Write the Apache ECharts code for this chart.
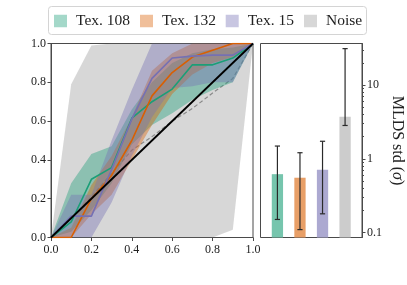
<!DOCTYPE html>
<html><head><meta charset="utf-8">
<script src="https://cdn.jsdelivr.net/npm/echarts@6/dist/echarts.min.js"></script>
<style>html,body{margin:0;padding:0;background:#fff}#c{width:407px;height:285px}</style>
</head><body><div id="c"></div>
<script>
// ---- data ----
const xs = [0, 0.1, 0.2, 0.3, 0.4, 0.5, 0.6, 0.7, 0.8, 0.9, 1.0];
const tex108Mean = [0, 0.08, 0.30, 0.36, 0.615, 0.70, 0.765, 0.89, 0.89, 0.925, 1.0];
const tex108Low  = [0, 0.03, 0.14, 0.28, 0.48, 0.58, 0.64, 0.71, 0.76, 0.80, 1.0];
const tex108High = [0, 0.28, 0.43, 0.47, 0.66, 0.80, 0.90, 0.95, 0.97, 0.98, 1.0];
const tex132Mean = [0, 0.0, 0.20, 0.32, 0.50, 0.73, 0.85, 0.93, 0.965, 1.0, 1.0];
const tex132Low  = [0, 0.0, 0.12, 0.22, 0.40, 0.58, 0.74, 0.84, 0.90, 0.93, 1.0];
const tex132High = [0, 0.05, 0.27, 0.42, 0.62, 0.86, 0.95, 1.0, 1.0, 1.0, 1.0];
const tex15Mean  = [0, 0.11, 0.11, 0.35, 0.61, 0.82, 0.925, 0.935, 0.94, 0.94, 1.0];
const tex15Low   = [0, 0.0, 0.0, 0.18, 0.42, 0.62, 0.77, 0.78, 0.80, 0.80, 1.0];
const tex15High  = [0, 0.22, 0.22, 0.50, 0.76, 1.0, 1.0, 1.0, 1.0, 1.0, 1.0];
const noiseMean  = [0, 0.10, 0.21, 0.33, 0.45, 0.52, 0.60, 0.665, 0.745, 0.82, 1.0];
const noiseLow   = [0, 0, 0, 0, 0, 0, 0, 0, 0, 0.04, 1.0];
const noiseHigh  = [0, 0.79, 0.99, 1.0, 1.0, 1.0, 1.0, 1.0, 1.0, 1.0, 1.0];
const diagonal   = [0, 1];
const axisTicks  = [0, 0.2, 0.4, 0.6, 0.8, 1.0];

const names = ['Tex. 108', 'Tex. 132', 'Tex. 15', 'Noise'];
const stdMean = [0.62, 0.555, 0.71, 3.73];
const stdLow  = [0.151, 0.11, 0.18, 2.83];
const stdHigh = [1.49, 1.21, 1.73, 31.1];
const logMajor = [0.1, 1, 10];
const logMinor = [0.2,0.3,0.4,0.5,0.6,0.7,0.8,0.9, 2,3,4,5,6,7,8,9, 20,30];

// ---- styles ----
const FONT = 'Liberation Serif';
const lineCol = ['#1b9e77', '#d95f02', '#7570b3'];
const bandCol = ['rgba(27,158,119,0.4)', 'rgba(217,95,2,0.4)', 'rgba(117,112,179,0.4)', 'rgba(155,155,155,0.4)'];
const barCol = ['#76c5ad', '#e89f67', '#aca9d1', '#cccccc'];
const frame = '#4a4a4a';
const lg = v => Math.log10(v);
const yMinLog = lg(0.086), yMaxLog = lg(36.5);

function band(name, lo, hi, color, z) {
  return {
    type: 'custom', name, xAxisIndex: 0, yAxisIndex: 0, z, silent: true, clip: true,
    itemStyle: { color },
    data: xs.map((x, i) => [x, lo[i], hi[i]]),
    encode: { x: 0, y: [1, 2] },
    renderItem: (params, api) => {
      if (params.dataIndex !== 0) return;
      const pts = [];
      for (let i = 0; i < xs.length; i++) pts.push(api.coord([xs[i], hi[i]]));
      for (let i = xs.length - 1; i >= 0; i--) pts.push(api.coord([xs[i], lo[i]]));
      return { type: 'polygon', shape: { points: pts }, style: { fill: color } };
    }
  };
}
function line(name, ys, color, z, extra) {
  return Object.assign({
    type: 'line', name, xAxisIndex: 0, yAxisIndex: 0, z, silent: true,
    data: xs.map((x, i) => [x, ys[i]]), showSymbol: false, symbol: 'none',
    lineStyle: { color, width: 1.6 }, itemStyle: { color }
  }, extra || {});
}

const legends = [54, 140, 225.7, 304].map((left, i) => ({
  left, top: 13, padding: 0, itemWidth: 13, itemHeight: 12.5, selectedMode: false,
  textStyle: { fontFamily: FONT, fontSize: 15.5, color: '#222', padding: [0, 0, 0, 4] },
  data: [{ name: names[i], icon: 'rect', itemStyle: { color: bandCol[i] } }]
}));

const option = {
  animation: false,
  backgroundColor: '#fff',
  graphic: [{ type: 'rect', left: 48, top: 6, shape: { width: 318, height: 28, r: 3 },
    style: { fill: '#fff', stroke: '#d4d4d4', lineWidth: 1 }, z: -1 }],
  legend: legends,
  grid: [
    { left: 51, top: 43.5, width: 202, height: 194, show: true, borderColor: frame, borderWidth: 1, backgroundColor: 'transparent' },
    { left: 260.5, top: 43.5, width: 101.5, height: 194, show: true, borderColor: frame, borderWidth: 1, backgroundColor: 'transparent' }
  ],
  xAxis: [
    { type: 'value', gridIndex: 0, min: 0, max: 1, interval: 0.2,
      axisLine: { onZero: false, lineStyle: { color: frame } }, splitLine: { show: false },
      axisTick: { length: 3.5, lineStyle: { color: frame } },
      axisLabel: { fontFamily: FONT, fontSize: 12, color: '#222', margin: 6, formatter: v => v.toFixed(1) } },
    { type: 'value', gridIndex: 1, min: -0.75, max: 3.75, show: false, axisLine: { onZero: false } }
  ],
  yAxis: [
    { type: 'value', gridIndex: 0, min: 0, max: 1, interval: 0.2,
      axisLine: { show: true, onZero: false, lineStyle: { color: frame } }, splitLine: { show: false },
      axisTick: { show: true, length: 3.5, lineStyle: { color: frame } },
      axisLabel: { fontFamily: FONT, fontSize: 12, color: '#222', margin: 5, formatter: v => v.toFixed(1) } },
    { type: 'value', gridIndex: 1, position: 'right', min: yMinLog, max: yMaxLog,
      axisLine: { show: true, onZero: false, lineStyle: { color: frame } }, splitLine: { show: false },
      axisTick: { show: true, length: 3.5, lineStyle: { color: frame }, customValues: logMajor.map(lg) },
      axisLabel: { fontFamily: FONT, fontSize: 12, color: '#222', margin: 5, customValues: logMajor.map(lg),
        formatter: v => { const r = Math.round(v); return r < 0 ? '0.1' : String(Math.pow(10, r)); } },
      name: 'MLDS std ({i|σ})', nameLocation: 'middle', nameRotate: -90, nameGap: 27,
      nameTextStyle: { fontFamily: FONT, fontSize: 16, color: '#222', rich: { i: { fontFamily: FONT, fontSize: 16, fontStyle: 'italic', color: '#222' } } } },
    { type: 'value', gridIndex: 1, position: 'right', min: yMinLog, max: yMaxLog,
      axisLine: { show: false, onZero: false }, splitLine: { show: false }, axisLabel: { show: false },
      axisTick: { show: true, length: 2, lineStyle: { color: frame }, customValues: logMinor.map(lg) } }
  ],
  series: [
    band('Noise', noiseLow, noiseHigh, bandCol[3], 1),
    line('Noise mean', noiseMean, '#8a8a8a', 2, { lineStyle: { color: '#8a8a8a', width: 1.2, type: [4, 2.5] } }),
    band('Tex. 108', tex108Low, tex108High, bandCol[0], 3),
    band('Tex. 132', tex132Low, tex132High, bandCol[1], 3),
    band('Tex. 15', tex15Low, tex15High, bandCol[2], 3),
    line('Tex. 108 mean', tex108Mean, lineCol[0], 4),
    line('Tex. 132 mean', tex132Mean, lineCol[1], 4),
    line('Tex. 15 mean', tex15Mean, lineCol[2], 4),
    { type: 'line', name: 'identity', xAxisIndex: 0, yAxisIndex: 0, z: 5, silent: true, showSymbol: false, symbol: 'none',
      data: diagonal.map(v => [v, v]), lineStyle: { color: '#000', width: 1.8 } },
    { type: 'custom', name: 'bars', xAxisIndex: 1, yAxisIndex: 1, z: 3, silent: true,
      data: stdMean.map((v, i) => [i, lg(v)]), encode: { x: 0, y: 1 },
      renderItem: (params, api) => {
        const i = api.value(0);
        const top = api.coord([i - 0.25, api.value(1)]);
        const right = api.coord([i + 0.25, api.value(1)]);
        const bottom = params.coordSys.y + params.coordSys.height;
        return { type: 'rect', shape: { x: top[0], y: top[1], width: right[0] - top[0], height: bottom - top[1] },
          style: { fill: barCol[i] } };
      } },
    { type: 'custom', name: 'errors', xAxisIndex: 1, yAxisIndex: 1, z: 4, silent: true,
      data: stdMean.map((v, i) => [i, lg(stdLow[i]), lg(stdHigh[i])]), encode: { x: 0, y: [1, 2] },
      renderItem: (params, api) => {
        const i = api.value(0);
        const lo = api.coord([i, api.value(1)]);
        const hi = api.coord([i, api.value(2)]);
        const s = { stroke: '#2a2a2a', lineWidth: 1.2 };
        return { type: 'group', children: [
          { type: 'line', shape: { x1: lo[0], y1: lo[1], x2: hi[0], y2: hi[1] }, style: s },
          { type: 'line', shape: { x1: lo[0] - 2.6, y1: lo[1], x2: lo[0] + 2.6, y2: lo[1] }, style: s },
          { type: 'line', shape: { x1: hi[0] - 2.6, y1: hi[1], x2: hi[0] + 2.6, y2: hi[1] }, style: s }
        ] };
      } }
  ]
};
const chart = echarts.init(document.getElementById('c'), null, { renderer: 'canvas' });
chart.setOption(option);
</script></body></html>
